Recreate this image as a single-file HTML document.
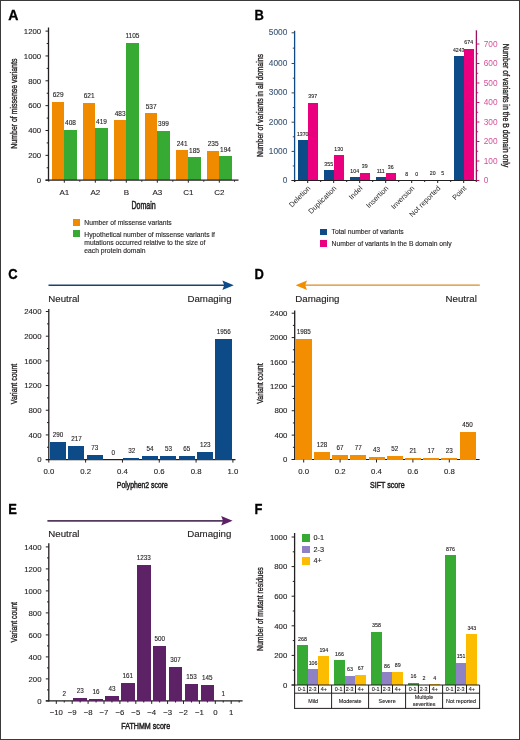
<!DOCTYPE html>
<html><head><meta charset="utf-8"><style>
html,body{margin:0;padding:0;background:#fff;}
svg{display:block;}
#w{will-change:transform;width:520px;height:740px;filter:blur(0.3px);}
text{font-family:"Liberation Sans", sans-serif;}
#b{position:absolute;left:0;top:0;width:520px;height:740px;box-sizing:border-box;border:1px solid #3a3a3a;border-bottom-width:1.4px;}
body{position:relative;}
</style></head><body>
<div id="w"><svg width="520" height="740" viewBox="0 0 520 740">
<rect x="0" y="0" width="520" height="740" fill="#fff"/>
<text transform="translate(8.20,20.00) scale(0.98,1)" font-size="14.4" fill="#000" font-weight="bold" stroke="#000" stroke-width="0.3">A</text>
<line x1="48.50" y1="27.50" x2="48.50" y2="180.70" stroke="#231f20" stroke-width="1.3"/>
<line x1="45.50" y1="180.20" x2="48.50" y2="180.20" stroke="#231f20" stroke-width="1"/>
<text x="41.20" y="182.90" font-size="7.8" text-anchor="end" fill="#231f20" font-weight="normal" stroke="#231f20" stroke-width="0.12">0</text>
<line x1="45.50" y1="155.35" x2="48.50" y2="155.35" stroke="#231f20" stroke-width="1"/>
<text x="41.20" y="158.05" font-size="7.8" text-anchor="end" fill="#231f20" font-weight="normal" stroke="#231f20" stroke-width="0.12">200</text>
<line x1="45.50" y1="130.50" x2="48.50" y2="130.50" stroke="#231f20" stroke-width="1"/>
<text x="41.20" y="133.20" font-size="7.8" text-anchor="end" fill="#231f20" font-weight="normal" stroke="#231f20" stroke-width="0.12">400</text>
<line x1="45.50" y1="105.65" x2="48.50" y2="105.65" stroke="#231f20" stroke-width="1"/>
<text x="41.20" y="108.35" font-size="7.8" text-anchor="end" fill="#231f20" font-weight="normal" stroke="#231f20" stroke-width="0.12">600</text>
<line x1="45.50" y1="80.80" x2="48.50" y2="80.80" stroke="#231f20" stroke-width="1"/>
<text x="41.20" y="83.50" font-size="7.8" text-anchor="end" fill="#231f20" font-weight="normal" stroke="#231f20" stroke-width="0.12">800</text>
<line x1="45.50" y1="55.95" x2="48.50" y2="55.95" stroke="#231f20" stroke-width="1"/>
<text x="41.20" y="58.65" font-size="7.8" text-anchor="end" fill="#231f20" font-weight="normal" stroke="#231f20" stroke-width="0.12">1000</text>
<line x1="45.50" y1="31.10" x2="48.50" y2="31.10" stroke="#231f20" stroke-width="1"/>
<text x="41.20" y="33.80" font-size="7.8" text-anchor="end" fill="#231f20" font-weight="normal" stroke="#231f20" stroke-width="0.12">1200</text>
<line x1="46.70" y1="167.77" x2="48.50" y2="167.77" stroke="#231f20" stroke-width="1"/>
<line x1="46.70" y1="142.92" x2="48.50" y2="142.92" stroke="#231f20" stroke-width="1"/>
<line x1="46.70" y1="118.07" x2="48.50" y2="118.07" stroke="#231f20" stroke-width="1"/>
<line x1="46.70" y1="93.22" x2="48.50" y2="93.22" stroke="#231f20" stroke-width="1"/>
<line x1="46.70" y1="68.37" x2="48.50" y2="68.37" stroke="#231f20" stroke-width="1"/>
<line x1="46.70" y1="43.52" x2="48.50" y2="43.52" stroke="#231f20" stroke-width="1"/>
<rect x="52.00" y="102.05" width="12.30" height="78.15" fill="#f08b00" shape-rendering="crispEdges"/>
<rect x="64.30" y="129.51" width="12.30" height="50.69" fill="#36aa33" shape-rendering="crispEdges"/>
<text x="58.15" y="97.45" font-size="6.5" text-anchor="middle" fill="#231f20" font-weight="normal" stroke="#231f20" stroke-width="0.12">629</text>
<text x="70.45" y="124.91" font-size="6.5" text-anchor="middle" fill="#231f20" font-weight="normal" stroke="#231f20" stroke-width="0.12">408</text>
<line x1="64.30" y1="180.20" x2="64.30" y2="182.70" stroke="#231f20" stroke-width="1"/>
<line x1="48.80" y1="180.20" x2="48.80" y2="181.70" stroke="#231f20" stroke-width="1"/>
<text x="64.30" y="194.50" font-size="8" text-anchor="middle" fill="#231f20" font-weight="normal" stroke="#231f20" stroke-width="0.12">A1</text>
<rect x="83.00" y="103.04" width="12.30" height="77.16" fill="#f08b00" shape-rendering="crispEdges"/>
<rect x="95.30" y="128.14" width="12.30" height="52.06" fill="#36aa33" shape-rendering="crispEdges"/>
<text x="89.15" y="98.44" font-size="6.5" text-anchor="middle" fill="#231f20" font-weight="normal" stroke="#231f20" stroke-width="0.12">621</text>
<text x="101.45" y="123.54" font-size="6.5" text-anchor="middle" fill="#231f20" font-weight="normal" stroke="#231f20" stroke-width="0.12">419</text>
<line x1="95.30" y1="180.20" x2="95.30" y2="182.70" stroke="#231f20" stroke-width="1"/>
<line x1="79.80" y1="180.20" x2="79.80" y2="181.70" stroke="#231f20" stroke-width="1"/>
<text x="95.30" y="194.50" font-size="8" text-anchor="middle" fill="#231f20" font-weight="normal" stroke="#231f20" stroke-width="0.12">A2</text>
<rect x="114.00" y="120.19" width="12.30" height="60.01" fill="#f08b00" shape-rendering="crispEdges"/>
<rect x="126.30" y="42.90" width="12.30" height="137.30" fill="#36aa33" shape-rendering="crispEdges"/>
<text x="120.15" y="115.59" font-size="6.5" text-anchor="middle" fill="#231f20" font-weight="normal" stroke="#231f20" stroke-width="0.12">483</text>
<text x="132.45" y="38.30" font-size="6.5" text-anchor="middle" fill="#231f20" font-weight="normal" stroke="#231f20" stroke-width="0.12">1105</text>
<line x1="126.30" y1="180.20" x2="126.30" y2="182.70" stroke="#231f20" stroke-width="1"/>
<line x1="110.80" y1="180.20" x2="110.80" y2="181.70" stroke="#231f20" stroke-width="1"/>
<text x="126.30" y="194.50" font-size="8" text-anchor="middle" fill="#231f20" font-weight="normal" stroke="#231f20" stroke-width="0.12">B</text>
<rect x="145.00" y="113.48" width="12.30" height="66.72" fill="#f08b00" shape-rendering="crispEdges"/>
<rect x="157.30" y="130.62" width="12.30" height="49.58" fill="#36aa33" shape-rendering="crispEdges"/>
<text x="151.15" y="108.88" font-size="6.5" text-anchor="middle" fill="#231f20" font-weight="normal" stroke="#231f20" stroke-width="0.12">537</text>
<text x="163.45" y="126.02" font-size="6.5" text-anchor="middle" fill="#231f20" font-weight="normal" stroke="#231f20" stroke-width="0.12">399</text>
<line x1="157.30" y1="180.20" x2="157.30" y2="182.70" stroke="#231f20" stroke-width="1"/>
<line x1="141.80" y1="180.20" x2="141.80" y2="181.70" stroke="#231f20" stroke-width="1"/>
<text x="157.30" y="194.50" font-size="8" text-anchor="middle" fill="#231f20" font-weight="normal" stroke="#231f20" stroke-width="0.12">A3</text>
<rect x="176.00" y="150.26" width="12.30" height="29.94" fill="#f08b00" shape-rendering="crispEdges"/>
<rect x="188.30" y="157.21" width="12.30" height="22.99" fill="#36aa33" shape-rendering="crispEdges"/>
<text x="182.15" y="145.66" font-size="6.5" text-anchor="middle" fill="#231f20" font-weight="normal" stroke="#231f20" stroke-width="0.12">241</text>
<text x="194.45" y="152.61" font-size="6.5" text-anchor="middle" fill="#231f20" font-weight="normal" stroke="#231f20" stroke-width="0.12">185</text>
<line x1="188.30" y1="180.20" x2="188.30" y2="182.70" stroke="#231f20" stroke-width="1"/>
<line x1="172.80" y1="180.20" x2="172.80" y2="181.70" stroke="#231f20" stroke-width="1"/>
<text x="188.30" y="194.50" font-size="8" text-anchor="middle" fill="#231f20" font-weight="normal" stroke="#231f20" stroke-width="0.12">C1</text>
<rect x="207.00" y="151.00" width="12.30" height="29.20" fill="#f08b00" shape-rendering="crispEdges"/>
<rect x="219.30" y="156.10" width="12.30" height="24.10" fill="#36aa33" shape-rendering="crispEdges"/>
<text x="213.15" y="146.40" font-size="6.5" text-anchor="middle" fill="#231f20" font-weight="normal" stroke="#231f20" stroke-width="0.12">235</text>
<text x="225.45" y="151.50" font-size="6.5" text-anchor="middle" fill="#231f20" font-weight="normal" stroke="#231f20" stroke-width="0.12">194</text>
<line x1="219.30" y1="180.20" x2="219.30" y2="182.70" stroke="#231f20" stroke-width="1"/>
<line x1="203.80" y1="180.20" x2="203.80" y2="181.70" stroke="#231f20" stroke-width="1"/>
<text x="219.30" y="194.50" font-size="8" text-anchor="middle" fill="#231f20" font-weight="normal" stroke="#231f20" stroke-width="0.12">C2</text>
<line x1="234.50" y1="180.20" x2="234.50" y2="181.70" stroke="#231f20" stroke-width="1"/>
<line x1="45.50" y1="180.20" x2="238.50" y2="180.20" stroke="#231f20" stroke-width="1.2"/>
<text transform="translate(143.60,208.70) scale(0.68,1)" font-size="10.4" text-anchor="middle" fill="#231f20" font-weight="normal" stroke="#231f20" stroke-width="0.5">Domain</text>
<text transform="translate(13.50,103.65) rotate(-90) scale(0.725,1)" font-size="9.6" text-anchor="middle" fill="#231f20" font-weight="normal" y="3.2" stroke="#231f20" stroke-width="0.35">Number of missense variants</text>
<rect x="73.00" y="219.00" width="7.00" height="7.00" fill="#f08b00" shape-rendering="crispEdges"/>
<rect x="73.00" y="230.30" width="7.00" height="7.00" fill="#36aa33" shape-rendering="crispEdges"/>
<text x="84.30" y="224.50" font-size="6.75" text-anchor="start" fill="#231f20" font-weight="normal" stroke="#231f20" stroke-width="0.12">Number of missense variants</text>
<text x="84.30" y="236.50" font-size="6.75" text-anchor="start" fill="#231f20" font-weight="normal" stroke="#231f20" stroke-width="0.12">Hypothetical number of missense variants if</text>
<text x="84.30" y="244.80" font-size="6.75" text-anchor="start" fill="#231f20" font-weight="normal" stroke="#231f20" stroke-width="0.12">mutations occurred relative to the size of</text>
<text x="84.30" y="253.10" font-size="6.75" text-anchor="start" fill="#231f20" font-weight="normal" stroke="#231f20" stroke-width="0.12">each protein domain</text>
<text transform="translate(254.60,20.00) scale(0.9,1)" font-size="14.4" fill="#000" font-weight="bold" stroke="#000" stroke-width="0.3">B</text>
<line x1="294.60" y1="30.80" x2="294.60" y2="182.00" stroke="#0c4b87" stroke-width="1.3"/>
<line x1="291.60" y1="180.50" x2="294.60" y2="180.50" stroke="#444" stroke-width="1"/>
<text x="287.30" y="183.00" font-size="8.3" text-anchor="end" fill="#3f5877" font-weight="normal" stroke="#3f5877" stroke-width="0.12">0</text>
<line x1="291.60" y1="151.40" x2="294.60" y2="151.40" stroke="#444" stroke-width="1"/>
<text x="287.30" y="153.90" font-size="8.3" text-anchor="end" fill="#3f5877" font-weight="normal" stroke="#3f5877" stroke-width="0.12">1000</text>
<line x1="291.60" y1="122.20" x2="294.60" y2="122.20" stroke="#444" stroke-width="1"/>
<text x="287.30" y="124.70" font-size="8.3" text-anchor="end" fill="#3f5877" font-weight="normal" stroke="#3f5877" stroke-width="0.12">2000</text>
<line x1="291.60" y1="92.90" x2="294.60" y2="92.90" stroke="#444" stroke-width="1"/>
<text x="287.30" y="95.40" font-size="8.3" text-anchor="end" fill="#3f5877" font-weight="normal" stroke="#3f5877" stroke-width="0.12">3000</text>
<line x1="291.60" y1="63.50" x2="294.60" y2="63.50" stroke="#444" stroke-width="1"/>
<text x="287.30" y="66.00" font-size="8.3" text-anchor="end" fill="#3f5877" font-weight="normal" stroke="#3f5877" stroke-width="0.12">4000</text>
<line x1="291.60" y1="32.80" x2="294.60" y2="32.80" stroke="#444" stroke-width="1"/>
<text x="287.30" y="35.30" font-size="8.3" text-anchor="end" fill="#3f5877" font-weight="normal" stroke="#3f5877" stroke-width="0.12">5000</text>
<line x1="292.80" y1="165.95" x2="294.60" y2="165.95" stroke="#444" stroke-width="1"/>
<line x1="292.80" y1="136.80" x2="294.60" y2="136.80" stroke="#444" stroke-width="1"/>
<line x1="292.80" y1="107.55" x2="294.60" y2="107.55" stroke="#444" stroke-width="1"/>
<line x1="292.80" y1="78.20" x2="294.60" y2="78.20" stroke="#444" stroke-width="1"/>
<line x1="292.80" y1="48.15" x2="294.60" y2="48.15" stroke="#444" stroke-width="1"/>
<line x1="476.40" y1="30.30" x2="476.40" y2="182.00" stroke="#a01060" stroke-width="1.3"/>
<line x1="476.40" y1="180.50" x2="479.40" y2="180.50" stroke="#c0106a" stroke-width="1"/>
<text x="483.70" y="183.00" font-size="8.3" text-anchor="start" fill="#d4509a" font-weight="normal" >0</text>
<line x1="476.40" y1="161.00" x2="479.40" y2="161.00" stroke="#c0106a" stroke-width="1"/>
<text x="483.70" y="163.50" font-size="8.3" text-anchor="start" fill="#d4509a" font-weight="normal" >100</text>
<line x1="476.40" y1="141.50" x2="479.40" y2="141.50" stroke="#c0106a" stroke-width="1"/>
<text x="483.70" y="144.00" font-size="8.3" text-anchor="start" fill="#d4509a" font-weight="normal" >200</text>
<line x1="476.40" y1="122.00" x2="479.40" y2="122.00" stroke="#c0106a" stroke-width="1"/>
<text x="483.70" y="124.50" font-size="8.3" text-anchor="start" fill="#d4509a" font-weight="normal" >300</text>
<line x1="476.40" y1="102.50" x2="479.40" y2="102.50" stroke="#c0106a" stroke-width="1"/>
<text x="483.70" y="105.00" font-size="8.3" text-anchor="start" fill="#d4509a" font-weight="normal" >400</text>
<line x1="476.40" y1="83.00" x2="479.40" y2="83.00" stroke="#c0106a" stroke-width="1"/>
<text x="483.70" y="85.50" font-size="8.3" text-anchor="start" fill="#d4509a" font-weight="normal" >500</text>
<line x1="476.40" y1="63.50" x2="479.40" y2="63.50" stroke="#c0106a" stroke-width="1"/>
<text x="483.70" y="66.00" font-size="8.3" text-anchor="start" fill="#d4509a" font-weight="normal" >600</text>
<line x1="476.40" y1="44.00" x2="479.40" y2="44.00" stroke="#c0106a" stroke-width="1"/>
<text x="483.70" y="46.50" font-size="8.3" text-anchor="start" fill="#d4509a" font-weight="normal" >700</text>
<line x1="476.40" y1="170.75" x2="478.20" y2="170.75" stroke="#c0106a" stroke-width="1"/>
<line x1="476.40" y1="151.25" x2="478.20" y2="151.25" stroke="#c0106a" stroke-width="1"/>
<line x1="476.40" y1="131.75" x2="478.20" y2="131.75" stroke="#c0106a" stroke-width="1"/>
<line x1="476.40" y1="112.25" x2="478.20" y2="112.25" stroke="#c0106a" stroke-width="1"/>
<line x1="476.40" y1="92.75" x2="478.20" y2="92.75" stroke="#c0106a" stroke-width="1"/>
<line x1="476.40" y1="73.25" x2="478.20" y2="73.25" stroke="#c0106a" stroke-width="1"/>
<line x1="476.40" y1="53.75" x2="478.20" y2="53.75" stroke="#c0106a" stroke-width="1"/>
<rect x="297.70" y="140.43" width="10.00" height="40.07" fill="#0c4b87" shape-rendering="crispEdges"/>
<rect x="307.70" y="103.08" width="10.00" height="77.42" fill="#ea007e" shape-rendering="crispEdges"/>
<text x="302.70" y="135.83" font-size="5.2" text-anchor="middle" fill="#231f20" font-weight="normal" stroke="#231f20" stroke-width="0.12">1370</text>
<text x="312.70" y="98.48" font-size="5.2" text-anchor="middle" fill="#231f20" font-weight="normal" stroke="#231f20" stroke-width="0.12">397</text>
<line x1="307.70" y1="180.50" x2="307.70" y2="183.00" stroke="#231f20" stroke-width="1"/>
<line x1="294.70" y1="180.50" x2="294.70" y2="182.00" stroke="#231f20" stroke-width="1"/>
<text transform="translate(310.90,188.70) rotate(-45)" font-size="7.3" text-anchor="end" fill="#231f20">Deletion</text>
<rect x="323.70" y="170.12" width="10.00" height="10.38" fill="#0c4b87" shape-rendering="crispEdges"/>
<rect x="333.70" y="155.15" width="10.00" height="25.35" fill="#ea007e" shape-rendering="crispEdges"/>
<text x="328.70" y="165.52" font-size="5.2" text-anchor="middle" fill="#231f20" font-weight="normal" stroke="#231f20" stroke-width="0.12">355</text>
<text x="338.70" y="150.55" font-size="5.2" text-anchor="middle" fill="#231f20" font-weight="normal" stroke="#231f20" stroke-width="0.12">130</text>
<line x1="333.70" y1="180.50" x2="333.70" y2="183.00" stroke="#231f20" stroke-width="1"/>
<line x1="320.70" y1="180.50" x2="320.70" y2="182.00" stroke="#231f20" stroke-width="1"/>
<text transform="translate(336.90,188.70) rotate(-45)" font-size="7.3" text-anchor="end" fill="#231f20">Duplication</text>
<rect x="349.70" y="177.46" width="10.00" height="3.04" fill="#0c4b87" shape-rendering="crispEdges"/>
<rect x="359.70" y="172.90" width="10.00" height="7.61" fill="#ea007e" shape-rendering="crispEdges"/>
<text x="354.70" y="172.86" font-size="5.2" text-anchor="middle" fill="#231f20" font-weight="normal" stroke="#231f20" stroke-width="0.12">104</text>
<text x="364.70" y="168.30" font-size="5.2" text-anchor="middle" fill="#231f20" font-weight="normal" stroke="#231f20" stroke-width="0.12">39</text>
<line x1="359.70" y1="180.50" x2="359.70" y2="183.00" stroke="#231f20" stroke-width="1"/>
<line x1="346.70" y1="180.50" x2="346.70" y2="182.00" stroke="#231f20" stroke-width="1"/>
<text transform="translate(362.90,188.70) rotate(-45)" font-size="7.3" text-anchor="end" fill="#231f20">Indel</text>
<rect x="375.70" y="177.25" width="10.00" height="3.25" fill="#0c4b87" shape-rendering="crispEdges"/>
<rect x="385.70" y="173.48" width="10.00" height="7.02" fill="#ea007e" shape-rendering="crispEdges"/>
<text x="380.70" y="172.65" font-size="5.2" text-anchor="middle" fill="#231f20" font-weight="normal" stroke="#231f20" stroke-width="0.12">111</text>
<text x="390.70" y="168.88" font-size="5.2" text-anchor="middle" fill="#231f20" font-weight="normal" stroke="#231f20" stroke-width="0.12">36</text>
<line x1="385.70" y1="180.50" x2="385.70" y2="183.00" stroke="#231f20" stroke-width="1"/>
<line x1="372.70" y1="180.50" x2="372.70" y2="182.00" stroke="#231f20" stroke-width="1"/>
<text transform="translate(388.90,188.70) rotate(-45)" font-size="7.3" text-anchor="end" fill="#231f20">Insertion</text>
<rect x="401.70" y="180.27" width="10.00" height="0.23" fill="#0c4b87" shape-rendering="crispEdges"/>
<rect x="411.70" y="180.50" width="10.00" height="0.00" fill="#ea007e" shape-rendering="crispEdges"/>
<text x="406.70" y="175.67" font-size="5.2" text-anchor="middle" fill="#231f20" font-weight="normal" stroke="#231f20" stroke-width="0.12">8</text>
<text x="416.70" y="175.90" font-size="5.2" text-anchor="middle" fill="#231f20" font-weight="normal" stroke="#231f20" stroke-width="0.12">0</text>
<line x1="411.70" y1="180.50" x2="411.70" y2="183.00" stroke="#231f20" stroke-width="1"/>
<line x1="398.70" y1="180.50" x2="398.70" y2="182.00" stroke="#231f20" stroke-width="1"/>
<text transform="translate(414.90,188.70) rotate(-45)" font-size="7.3" text-anchor="end" fill="#231f20">Inversion</text>
<rect x="427.70" y="179.91" width="10.00" height="0.59" fill="#0c4b87" shape-rendering="crispEdges"/>
<rect x="437.70" y="179.53" width="10.00" height="0.98" fill="#ea007e" shape-rendering="crispEdges"/>
<text x="432.70" y="175.31" font-size="5.2" text-anchor="middle" fill="#231f20" font-weight="normal" stroke="#231f20" stroke-width="0.12">20</text>
<text x="442.70" y="174.93" font-size="5.2" text-anchor="middle" fill="#231f20" font-weight="normal" stroke="#231f20" stroke-width="0.12">5</text>
<line x1="437.70" y1="180.50" x2="437.70" y2="183.00" stroke="#231f20" stroke-width="1"/>
<line x1="424.70" y1="180.50" x2="424.70" y2="182.00" stroke="#231f20" stroke-width="1"/>
<text transform="translate(440.90,188.70) rotate(-45)" font-size="7.3" text-anchor="end" fill="#231f20">Not reported</text>
<rect x="453.70" y="56.39" width="10.00" height="124.11" fill="#0c4b87" shape-rendering="crispEdges"/>
<rect x="463.70" y="49.07" width="10.00" height="131.43" fill="#ea007e" shape-rendering="crispEdges"/>
<text x="458.70" y="51.79" font-size="5.2" text-anchor="middle" fill="#231f20" font-weight="normal" stroke="#231f20" stroke-width="0.12">4243</text>
<text x="468.70" y="44.47" font-size="5.2" text-anchor="middle" fill="#231f20" font-weight="normal" stroke="#231f20" stroke-width="0.12">674</text>
<line x1="463.70" y1="180.50" x2="463.70" y2="183.00" stroke="#231f20" stroke-width="1"/>
<line x1="450.70" y1="180.50" x2="450.70" y2="182.00" stroke="#231f20" stroke-width="1"/>
<text transform="translate(466.90,188.70) rotate(-45)" font-size="7.3" text-anchor="end" fill="#231f20">Point</text>
<line x1="291.60" y1="180.50" x2="476.40" y2="180.50" stroke="#231f20" stroke-width="1.2"/>
<text transform="translate(259.70,105.50) rotate(-90) scale(0.725,1)" font-size="9.6" text-anchor="middle" fill="#231f20" font-weight="normal" y="3.2" stroke="#231f20" stroke-width="0.35">Number of variants in all domains</text>
<text transform="translate(506.70,105.50) rotate(90) scale(0.725,1)" font-size="9.6" text-anchor="middle" fill="#231f20" font-weight="normal" y="3.2" stroke="#231f20" stroke-width="0.35">Number of variants in the B domain only</text>
<rect x="320.20" y="228.60" width="6.80" height="6.80" fill="#0c4b87" shape-rendering="crispEdges"/>
<rect x="320.20" y="240.10" width="6.80" height="6.80" fill="#ea007e" shape-rendering="crispEdges"/>
<text x="331.60" y="234.40" font-size="6.75" text-anchor="start" fill="#231f20" font-weight="normal" stroke="#231f20" stroke-width="0.12">Total number of variants</text>
<text x="331.60" y="245.90" font-size="6.75" text-anchor="start" fill="#231f20" font-weight="normal" stroke="#231f20" stroke-width="0.12">Number of variants in the B domain only</text>
<text transform="translate(8.20,278.70) scale(0.9,1)" font-size="14.4" fill="#000" font-weight="bold" stroke="#000" stroke-width="0.3">C</text>
<line x1="48.50" y1="285.20" x2="225.80" y2="285.20" stroke="#1a4470" stroke-width="1.5"/>
<path d="M233.80,285.20 L222.40,280.40 L224.20,285.20 L222.40,290.00 Z" fill="#0c4b87"/>
<text x="48.30" y="301.60" font-size="9.7" text-anchor="start" fill="#231f20" font-weight="normal" stroke="#231f20" stroke-width="0.15">Neutral</text>
<text x="231.60" y="301.60" font-size="9.7" text-anchor="end" fill="#231f20" font-weight="normal" stroke="#231f20" stroke-width="0.15">Damaging</text>
<line x1="48.80" y1="308.90" x2="48.80" y2="460.10" stroke="#231f20" stroke-width="1.3"/>
<line x1="45.80" y1="459.60" x2="48.80" y2="459.60" stroke="#231f20" stroke-width="1"/>
<text x="41.50" y="462.30" font-size="7.8" text-anchor="end" fill="#231f20" font-weight="normal" stroke="#231f20" stroke-width="0.12">0</text>
<line x1="45.80" y1="434.92" x2="48.80" y2="434.92" stroke="#231f20" stroke-width="1"/>
<text x="41.50" y="437.62" font-size="7.8" text-anchor="end" fill="#231f20" font-weight="normal" stroke="#231f20" stroke-width="0.12">400</text>
<line x1="45.80" y1="410.24" x2="48.80" y2="410.24" stroke="#231f20" stroke-width="1"/>
<text x="41.50" y="412.94" font-size="7.8" text-anchor="end" fill="#231f20" font-weight="normal" stroke="#231f20" stroke-width="0.12">800</text>
<line x1="45.80" y1="385.56" x2="48.80" y2="385.56" stroke="#231f20" stroke-width="1"/>
<text x="41.50" y="388.26" font-size="7.8" text-anchor="end" fill="#231f20" font-weight="normal" stroke="#231f20" stroke-width="0.12">1200</text>
<line x1="45.80" y1="360.88" x2="48.80" y2="360.88" stroke="#231f20" stroke-width="1"/>
<text x="41.50" y="363.58" font-size="7.8" text-anchor="end" fill="#231f20" font-weight="normal" stroke="#231f20" stroke-width="0.12">1600</text>
<line x1="45.80" y1="336.20" x2="48.80" y2="336.20" stroke="#231f20" stroke-width="1"/>
<text x="41.50" y="338.90" font-size="7.8" text-anchor="end" fill="#231f20" font-weight="normal" stroke="#231f20" stroke-width="0.12">2000</text>
<line x1="45.80" y1="311.52" x2="48.80" y2="311.52" stroke="#231f20" stroke-width="1"/>
<text x="41.50" y="314.22" font-size="7.8" text-anchor="end" fill="#231f20" font-weight="normal" stroke="#231f20" stroke-width="0.12">2400</text>
<line x1="47.00" y1="447.26" x2="48.80" y2="447.26" stroke="#231f20" stroke-width="1"/>
<line x1="47.00" y1="422.58" x2="48.80" y2="422.58" stroke="#231f20" stroke-width="1"/>
<line x1="47.00" y1="397.90" x2="48.80" y2="397.90" stroke="#231f20" stroke-width="1"/>
<line x1="47.00" y1="373.22" x2="48.80" y2="373.22" stroke="#231f20" stroke-width="1"/>
<line x1="47.00" y1="348.54" x2="48.80" y2="348.54" stroke="#231f20" stroke-width="1"/>
<line x1="47.00" y1="323.86" x2="48.80" y2="323.86" stroke="#231f20" stroke-width="1"/>
<line x1="45.80" y1="459.60" x2="235.50" y2="459.60" stroke="#231f20" stroke-width="1.2"/>
<rect x="49.80" y="441.71" width="16.01" height="17.89" fill="#0c4b87" shape-rendering="crispEdges"/>
<text x="58.00" y="436.71" font-size="6.3" text-anchor="middle" fill="#231f20" font-weight="normal" stroke="#231f20" stroke-width="0.12">290</text>
<rect x="68.21" y="446.21" width="16.01" height="13.39" fill="#0c4b87" shape-rendering="crispEdges"/>
<text x="76.41" y="441.21" font-size="6.3" text-anchor="middle" fill="#231f20" font-weight="normal" stroke="#231f20" stroke-width="0.12">217</text>
<rect x="86.62" y="455.10" width="16.01" height="4.50" fill="#0c4b87" shape-rendering="crispEdges"/>
<text x="94.83" y="450.10" font-size="6.3" text-anchor="middle" fill="#231f20" font-weight="normal" stroke="#231f20" stroke-width="0.12">73</text>
<rect x="105.03" y="459.60" width="16.01" height="0.00" fill="#0c4b87" shape-rendering="crispEdges"/>
<text x="113.23" y="454.60" font-size="6.3" text-anchor="middle" fill="#231f20" font-weight="normal" stroke="#231f20" stroke-width="0.12">0</text>
<rect x="123.44" y="457.63" width="16.01" height="1.97" fill="#0c4b87" shape-rendering="crispEdges"/>
<text x="131.65" y="452.63" font-size="6.3" text-anchor="middle" fill="#231f20" font-weight="normal" stroke="#231f20" stroke-width="0.12">32</text>
<rect x="141.85" y="456.27" width="16.01" height="3.33" fill="#0c4b87" shape-rendering="crispEdges"/>
<text x="150.06" y="451.27" font-size="6.3" text-anchor="middle" fill="#231f20" font-weight="normal" stroke="#231f20" stroke-width="0.12">54</text>
<rect x="160.26" y="456.33" width="16.01" height="3.27" fill="#0c4b87" shape-rendering="crispEdges"/>
<text x="168.47" y="451.33" font-size="6.3" text-anchor="middle" fill="#231f20" font-weight="normal" stroke="#231f20" stroke-width="0.12">53</text>
<rect x="178.67" y="455.59" width="16.01" height="4.01" fill="#0c4b87" shape-rendering="crispEdges"/>
<text x="186.88" y="450.59" font-size="6.3" text-anchor="middle" fill="#231f20" font-weight="normal" stroke="#231f20" stroke-width="0.12">65</text>
<rect x="197.08" y="452.01" width="16.01" height="7.59" fill="#0c4b87" shape-rendering="crispEdges"/>
<text x="205.28" y="447.01" font-size="6.3" text-anchor="middle" fill="#231f20" font-weight="normal" stroke="#231f20" stroke-width="0.12">123</text>
<rect x="215.49" y="338.91" width="16.01" height="120.69" fill="#0c4b87" shape-rendering="crispEdges"/>
<text x="223.70" y="333.91" font-size="6.3" text-anchor="middle" fill="#231f20" font-weight="normal" stroke="#231f20" stroke-width="0.12">1956</text>
<line x1="48.80" y1="459.60" x2="48.80" y2="462.60" stroke="#231f20" stroke-width="1"/>
<text x="48.80" y="474.00" font-size="7.8" text-anchor="middle" fill="#231f20" font-weight="normal" stroke="#231f20" stroke-width="0.12">0.0</text>
<line x1="85.62" y1="459.60" x2="85.62" y2="462.60" stroke="#231f20" stroke-width="1"/>
<text x="85.62" y="474.00" font-size="7.8" text-anchor="middle" fill="#231f20" font-weight="normal" stroke="#231f20" stroke-width="0.12">0.2</text>
<line x1="122.44" y1="459.60" x2="122.44" y2="462.60" stroke="#231f20" stroke-width="1"/>
<text x="122.44" y="474.00" font-size="7.8" text-anchor="middle" fill="#231f20" font-weight="normal" stroke="#231f20" stroke-width="0.12">0.4</text>
<line x1="159.26" y1="459.60" x2="159.26" y2="462.60" stroke="#231f20" stroke-width="1"/>
<text x="159.26" y="474.00" font-size="7.8" text-anchor="middle" fill="#231f20" font-weight="normal" stroke="#231f20" stroke-width="0.12">0.6</text>
<line x1="196.08" y1="459.60" x2="196.08" y2="462.60" stroke="#231f20" stroke-width="1"/>
<text x="196.08" y="474.00" font-size="7.8" text-anchor="middle" fill="#231f20" font-weight="normal" stroke="#231f20" stroke-width="0.12">0.8</text>
<line x1="232.90" y1="459.60" x2="232.90" y2="462.60" stroke="#231f20" stroke-width="1"/>
<text x="232.90" y="474.00" font-size="7.8" text-anchor="middle" fill="#231f20" font-weight="normal" stroke="#231f20" stroke-width="0.12">1.0</text>
<text transform="translate(142.30,487.80) scale(0.76,1)" font-size="9" text-anchor="middle" fill="#231f20" font-weight="normal" stroke="#231f20" stroke-width="0.5">Polyphen2 score</text>
<text transform="translate(13.50,384.00) rotate(-90) scale(0.725,1)" font-size="9.6" text-anchor="middle" fill="#231f20" font-weight="normal" y="3.2" stroke="#231f20" stroke-width="0.35">Variant count</text>
<text transform="translate(254.60,278.70) scale(0.9,1)" font-size="14.4" fill="#000" font-weight="bold" stroke="#000" stroke-width="0.3">D</text>
<line x1="303.60" y1="285.20" x2="479.80" y2="285.20" stroke="#d98c1e" stroke-width="1.3"/>
<path d="M295.60,285.20 L307.00,280.40 L305.20,285.20 L307.00,290.00 Z" fill="#f28e00"/>
<text x="295.30" y="301.60" font-size="9.7" text-anchor="start" fill="#231f20" font-weight="normal" stroke="#231f20" stroke-width="0.15">Damaging</text>
<text x="476.80" y="301.60" font-size="9.7" text-anchor="end" fill="#231f20" font-weight="normal" stroke="#231f20" stroke-width="0.15">Neutral</text>
<line x1="294.70" y1="310.40" x2="294.70" y2="460.00" stroke="#231f20" stroke-width="1.3"/>
<line x1="291.70" y1="459.50" x2="294.70" y2="459.50" stroke="#231f20" stroke-width="1"/>
<text x="287.40" y="462.20" font-size="7.8" text-anchor="end" fill="#231f20" font-weight="normal" stroke="#231f20" stroke-width="0.12">0</text>
<line x1="291.70" y1="435.12" x2="294.70" y2="435.12" stroke="#231f20" stroke-width="1"/>
<text x="287.40" y="437.82" font-size="7.8" text-anchor="end" fill="#231f20" font-weight="normal" stroke="#231f20" stroke-width="0.12">400</text>
<line x1="291.70" y1="410.73" x2="294.70" y2="410.73" stroke="#231f20" stroke-width="1"/>
<text x="287.40" y="413.43" font-size="7.8" text-anchor="end" fill="#231f20" font-weight="normal" stroke="#231f20" stroke-width="0.12">800</text>
<line x1="291.70" y1="386.35" x2="294.70" y2="386.35" stroke="#231f20" stroke-width="1"/>
<text x="287.40" y="389.05" font-size="7.8" text-anchor="end" fill="#231f20" font-weight="normal" stroke="#231f20" stroke-width="0.12">1200</text>
<line x1="291.70" y1="361.97" x2="294.70" y2="361.97" stroke="#231f20" stroke-width="1"/>
<text x="287.40" y="364.67" font-size="7.8" text-anchor="end" fill="#231f20" font-weight="normal" stroke="#231f20" stroke-width="0.12">1600</text>
<line x1="291.70" y1="337.58" x2="294.70" y2="337.58" stroke="#231f20" stroke-width="1"/>
<text x="287.40" y="340.28" font-size="7.8" text-anchor="end" fill="#231f20" font-weight="normal" stroke="#231f20" stroke-width="0.12">2000</text>
<line x1="291.70" y1="313.20" x2="294.70" y2="313.20" stroke="#231f20" stroke-width="1"/>
<text x="287.40" y="315.90" font-size="7.8" text-anchor="end" fill="#231f20" font-weight="normal" stroke="#231f20" stroke-width="0.12">2400</text>
<line x1="292.90" y1="447.31" x2="294.70" y2="447.31" stroke="#231f20" stroke-width="1"/>
<line x1="292.90" y1="422.93" x2="294.70" y2="422.93" stroke="#231f20" stroke-width="1"/>
<line x1="292.90" y1="398.54" x2="294.70" y2="398.54" stroke="#231f20" stroke-width="1"/>
<line x1="292.90" y1="374.16" x2="294.70" y2="374.16" stroke="#231f20" stroke-width="1"/>
<line x1="292.90" y1="349.77" x2="294.70" y2="349.77" stroke="#231f20" stroke-width="1"/>
<line x1="292.90" y1="325.39" x2="294.70" y2="325.39" stroke="#231f20" stroke-width="1"/>
<line x1="291.70" y1="459.50" x2="479.60" y2="459.50" stroke="#231f20" stroke-width="1.2"/>
<rect x="295.20" y="338.50" width="16.50" height="121.00" fill="#f28e00" shape-rendering="crispEdges"/>
<text x="303.70" y="333.50" font-size="6.3" text-anchor="middle" fill="#231f20" font-weight="normal" stroke="#231f20" stroke-width="0.12">1985</text>
<rect x="313.90" y="451.70" width="16.00" height="7.80" fill="#f28e00" shape-rendering="crispEdges"/>
<text x="321.90" y="446.70" font-size="6.3" text-anchor="middle" fill="#231f20" font-weight="normal" stroke="#231f20" stroke-width="0.12">128</text>
<rect x="332.10" y="455.42" width="16.00" height="4.08" fill="#f28e00" shape-rendering="crispEdges"/>
<text x="340.10" y="450.42" font-size="6.3" text-anchor="middle" fill="#231f20" font-weight="normal" stroke="#231f20" stroke-width="0.12">67</text>
<rect x="350.30" y="454.81" width="16.00" height="4.69" fill="#f28e00" shape-rendering="crispEdges"/>
<text x="358.30" y="449.81" font-size="6.3" text-anchor="middle" fill="#231f20" font-weight="normal" stroke="#231f20" stroke-width="0.12">77</text>
<rect x="368.50" y="456.88" width="16.00" height="2.62" fill="#f28e00" shape-rendering="crispEdges"/>
<text x="376.50" y="451.88" font-size="6.3" text-anchor="middle" fill="#231f20" font-weight="normal" stroke="#231f20" stroke-width="0.12">43</text>
<rect x="386.70" y="456.33" width="16.00" height="3.17" fill="#f28e00" shape-rendering="crispEdges"/>
<text x="394.70" y="451.33" font-size="6.3" text-anchor="middle" fill="#231f20" font-weight="normal" stroke="#231f20" stroke-width="0.12">52</text>
<rect x="404.90" y="458.22" width="16.00" height="1.28" fill="#f28e00" shape-rendering="crispEdges"/>
<text x="412.90" y="453.22" font-size="6.3" text-anchor="middle" fill="#231f20" font-weight="normal" stroke="#231f20" stroke-width="0.12">21</text>
<rect x="423.10" y="458.46" width="16.00" height="1.04" fill="#f28e00" shape-rendering="crispEdges"/>
<text x="431.10" y="453.46" font-size="6.3" text-anchor="middle" fill="#231f20" font-weight="normal" stroke="#231f20" stroke-width="0.12">17</text>
<rect x="441.30" y="458.10" width="16.00" height="1.40" fill="#f28e00" shape-rendering="crispEdges"/>
<text x="449.30" y="453.10" font-size="6.3" text-anchor="middle" fill="#231f20" font-weight="normal" stroke="#231f20" stroke-width="0.12">23</text>
<rect x="459.50" y="432.07" width="16.00" height="27.43" fill="#f28e00" shape-rendering="crispEdges"/>
<text x="467.50" y="427.07" font-size="6.3" text-anchor="middle" fill="#231f20" font-weight="normal" stroke="#231f20" stroke-width="0.12">450</text>
<line x1="303.70" y1="459.50" x2="303.70" y2="462.50" stroke="#231f20" stroke-width="1"/>
<text x="303.70" y="474.00" font-size="7.8" text-anchor="middle" fill="#231f20" font-weight="normal" stroke="#231f20" stroke-width="0.12">0.0</text>
<line x1="340.10" y1="459.50" x2="340.10" y2="462.50" stroke="#231f20" stroke-width="1"/>
<text x="340.10" y="474.00" font-size="7.8" text-anchor="middle" fill="#231f20" font-weight="normal" stroke="#231f20" stroke-width="0.12">0.2</text>
<line x1="376.50" y1="459.50" x2="376.50" y2="462.50" stroke="#231f20" stroke-width="1"/>
<text x="376.50" y="474.00" font-size="7.8" text-anchor="middle" fill="#231f20" font-weight="normal" stroke="#231f20" stroke-width="0.12">0.4</text>
<line x1="412.90" y1="459.50" x2="412.90" y2="462.50" stroke="#231f20" stroke-width="1"/>
<text x="412.90" y="474.00" font-size="7.8" text-anchor="middle" fill="#231f20" font-weight="normal" stroke="#231f20" stroke-width="0.12">0.6</text>
<line x1="449.30" y1="459.50" x2="449.30" y2="462.50" stroke="#231f20" stroke-width="1"/>
<text x="449.30" y="474.00" font-size="7.8" text-anchor="middle" fill="#231f20" font-weight="normal" stroke="#231f20" stroke-width="0.12">0.8</text>
<text transform="translate(387.30,488.20) scale(0.75,1)" font-size="9.5" text-anchor="middle" fill="#231f20" font-weight="normal" stroke="#231f20" stroke-width="0.5">SIFT score</text>
<text transform="translate(259.70,383.60) rotate(-90) scale(0.725,1)" font-size="9.6" text-anchor="middle" fill="#231f20" font-weight="normal" y="3.2" stroke="#231f20" stroke-width="0.35">Variant count</text>
<text transform="translate(8.20,514.40) scale(0.9,1)" font-size="14.4" fill="#000" font-weight="bold" stroke="#000" stroke-width="0.3">E</text>
<line x1="47.40" y1="520.80" x2="224.60" y2="520.80" stroke="#553a60" stroke-width="1.8"/>
<path d="M232.60,520.80 L221.20,516.00 L223.00,520.80 L221.20,525.60 Z" fill="#5d2166"/>
<text x="48.30" y="536.80" font-size="9.7" text-anchor="start" fill="#231f20" font-weight="normal" stroke="#231f20" stroke-width="0.15">Neutral</text>
<text x="231.40" y="536.80" font-size="9.7" text-anchor="end" fill="#231f20" font-weight="normal" stroke="#231f20" stroke-width="0.15">Damaging</text>
<line x1="48.80" y1="543.20" x2="48.80" y2="701.40" stroke="#231f20" stroke-width="1.3"/>
<line x1="45.80" y1="700.90" x2="48.80" y2="700.90" stroke="#231f20" stroke-width="1"/>
<text x="41.50" y="703.60" font-size="7.8" text-anchor="end" fill="#231f20" font-weight="normal" stroke="#231f20" stroke-width="0.12">0</text>
<line x1="45.80" y1="678.90" x2="48.80" y2="678.90" stroke="#231f20" stroke-width="1"/>
<text x="41.50" y="681.60" font-size="7.8" text-anchor="end" fill="#231f20" font-weight="normal" stroke="#231f20" stroke-width="0.12">200</text>
<line x1="45.80" y1="656.90" x2="48.80" y2="656.90" stroke="#231f20" stroke-width="1"/>
<text x="41.50" y="659.60" font-size="7.8" text-anchor="end" fill="#231f20" font-weight="normal" stroke="#231f20" stroke-width="0.12">400</text>
<line x1="45.80" y1="634.90" x2="48.80" y2="634.90" stroke="#231f20" stroke-width="1"/>
<text x="41.50" y="637.60" font-size="7.8" text-anchor="end" fill="#231f20" font-weight="normal" stroke="#231f20" stroke-width="0.12">600</text>
<line x1="45.80" y1="612.90" x2="48.80" y2="612.90" stroke="#231f20" stroke-width="1"/>
<text x="41.50" y="615.60" font-size="7.8" text-anchor="end" fill="#231f20" font-weight="normal" stroke="#231f20" stroke-width="0.12">800</text>
<line x1="45.80" y1="590.90" x2="48.80" y2="590.90" stroke="#231f20" stroke-width="1"/>
<text x="41.50" y="593.60" font-size="7.8" text-anchor="end" fill="#231f20" font-weight="normal" stroke="#231f20" stroke-width="0.12">1000</text>
<line x1="45.80" y1="568.90" x2="48.80" y2="568.90" stroke="#231f20" stroke-width="1"/>
<text x="41.50" y="571.60" font-size="7.8" text-anchor="end" fill="#231f20" font-weight="normal" stroke="#231f20" stroke-width="0.12">1200</text>
<line x1="45.80" y1="546.90" x2="48.80" y2="546.90" stroke="#231f20" stroke-width="1"/>
<text x="41.50" y="549.60" font-size="7.8" text-anchor="end" fill="#231f20" font-weight="normal" stroke="#231f20" stroke-width="0.12">1400</text>
<line x1="47.00" y1="689.90" x2="48.80" y2="689.90" stroke="#231f20" stroke-width="1"/>
<line x1="47.00" y1="667.90" x2="48.80" y2="667.90" stroke="#231f20" stroke-width="1"/>
<line x1="47.00" y1="645.90" x2="48.80" y2="645.90" stroke="#231f20" stroke-width="1"/>
<line x1="47.00" y1="623.90" x2="48.80" y2="623.90" stroke="#231f20" stroke-width="1"/>
<line x1="47.00" y1="601.90" x2="48.80" y2="601.90" stroke="#231f20" stroke-width="1"/>
<line x1="47.00" y1="579.90" x2="48.80" y2="579.90" stroke="#231f20" stroke-width="1"/>
<line x1="47.00" y1="557.90" x2="48.80" y2="557.90" stroke="#231f20" stroke-width="1"/>
<line x1="45.80" y1="700.90" x2="242.60" y2="700.90" stroke="#231f20" stroke-width="1.2"/>
<text x="64.25" y="695.68" font-size="6.3" text-anchor="middle" fill="#231f20" font-weight="normal" stroke="#231f20" stroke-width="0.12">2</text>
<rect x="73.40" y="698.37" width="13.50" height="2.53" fill="#5d2166" shape-rendering="crispEdges"/>
<text x="80.15" y="693.37" font-size="6.3" text-anchor="middle" fill="#231f20" font-weight="normal" stroke="#231f20" stroke-width="0.12">23</text>
<rect x="89.30" y="699.14" width="13.50" height="1.76" fill="#5d2166" shape-rendering="crispEdges"/>
<text x="96.05" y="694.14" font-size="6.3" text-anchor="middle" fill="#231f20" font-weight="normal" stroke="#231f20" stroke-width="0.12">16</text>
<rect x="105.20" y="696.17" width="13.50" height="4.73" fill="#5d2166" shape-rendering="crispEdges"/>
<text x="111.95" y="691.17" font-size="6.3" text-anchor="middle" fill="#231f20" font-weight="normal" stroke="#231f20" stroke-width="0.12">43</text>
<rect x="121.10" y="683.19" width="13.50" height="17.71" fill="#5d2166" shape-rendering="crispEdges"/>
<text x="127.85" y="678.19" font-size="6.3" text-anchor="middle" fill="#231f20" font-weight="normal" stroke="#231f20" stroke-width="0.12">161</text>
<rect x="137.00" y="565.27" width="13.50" height="135.63" fill="#5d2166" shape-rendering="crispEdges"/>
<text x="143.75" y="560.27" font-size="6.3" text-anchor="middle" fill="#231f20" font-weight="normal" stroke="#231f20" stroke-width="0.12">1233</text>
<rect x="152.90" y="645.90" width="13.50" height="55.00" fill="#5d2166" shape-rendering="crispEdges"/>
<text x="159.65" y="640.90" font-size="6.3" text-anchor="middle" fill="#231f20" font-weight="normal" stroke="#231f20" stroke-width="0.12">500</text>
<rect x="168.80" y="667.13" width="13.50" height="33.77" fill="#5d2166" shape-rendering="crispEdges"/>
<text x="175.55" y="662.13" font-size="6.3" text-anchor="middle" fill="#231f20" font-weight="normal" stroke="#231f20" stroke-width="0.12">307</text>
<rect x="184.70" y="684.07" width="13.50" height="16.83" fill="#5d2166" shape-rendering="crispEdges"/>
<text x="191.45" y="679.07" font-size="6.3" text-anchor="middle" fill="#231f20" font-weight="normal" stroke="#231f20" stroke-width="0.12">153</text>
<rect x="200.60" y="684.95" width="13.50" height="15.95" fill="#5d2166" shape-rendering="crispEdges"/>
<text x="207.35" y="679.95" font-size="6.3" text-anchor="middle" fill="#231f20" font-weight="normal" stroke="#231f20" stroke-width="0.12">145</text>
<text x="223.25" y="695.79" font-size="6.3" text-anchor="middle" fill="#231f20" font-weight="normal" stroke="#231f20" stroke-width="0.12">1</text>
<line x1="56.30" y1="700.90" x2="56.30" y2="703.90" stroke="#231f20" stroke-width="1"/>
<text x="56.30" y="714.60" font-size="7.8" text-anchor="middle" fill="#231f20" font-weight="normal" stroke="#231f20" stroke-width="0.12">−10</text>
<line x1="72.20" y1="700.90" x2="72.20" y2="703.90" stroke="#231f20" stroke-width="1"/>
<text x="72.20" y="714.60" font-size="7.8" text-anchor="middle" fill="#231f20" font-weight="normal" stroke="#231f20" stroke-width="0.12">−9</text>
<line x1="88.10" y1="700.90" x2="88.10" y2="703.90" stroke="#231f20" stroke-width="1"/>
<text x="88.10" y="714.60" font-size="7.8" text-anchor="middle" fill="#231f20" font-weight="normal" stroke="#231f20" stroke-width="0.12">−8</text>
<line x1="104.00" y1="700.90" x2="104.00" y2="703.90" stroke="#231f20" stroke-width="1"/>
<text x="104.00" y="714.60" font-size="7.8" text-anchor="middle" fill="#231f20" font-weight="normal" stroke="#231f20" stroke-width="0.12">−7</text>
<line x1="119.90" y1="700.90" x2="119.90" y2="703.90" stroke="#231f20" stroke-width="1"/>
<text x="119.90" y="714.60" font-size="7.8" text-anchor="middle" fill="#231f20" font-weight="normal" stroke="#231f20" stroke-width="0.12">−6</text>
<line x1="135.80" y1="700.90" x2="135.80" y2="703.90" stroke="#231f20" stroke-width="1"/>
<text x="135.80" y="714.60" font-size="7.8" text-anchor="middle" fill="#231f20" font-weight="normal" stroke="#231f20" stroke-width="0.12">−5</text>
<line x1="151.70" y1="700.90" x2="151.70" y2="703.90" stroke="#231f20" stroke-width="1"/>
<text x="151.70" y="714.60" font-size="7.8" text-anchor="middle" fill="#231f20" font-weight="normal" stroke="#231f20" stroke-width="0.12">−4</text>
<line x1="167.60" y1="700.90" x2="167.60" y2="703.90" stroke="#231f20" stroke-width="1"/>
<text x="167.60" y="714.60" font-size="7.8" text-anchor="middle" fill="#231f20" font-weight="normal" stroke="#231f20" stroke-width="0.12">−3</text>
<line x1="183.50" y1="700.90" x2="183.50" y2="703.90" stroke="#231f20" stroke-width="1"/>
<text x="183.50" y="714.60" font-size="7.8" text-anchor="middle" fill="#231f20" font-weight="normal" stroke="#231f20" stroke-width="0.12">−2</text>
<line x1="199.40" y1="700.90" x2="199.40" y2="703.90" stroke="#231f20" stroke-width="1"/>
<text x="199.40" y="714.60" font-size="7.8" text-anchor="middle" fill="#231f20" font-weight="normal" stroke="#231f20" stroke-width="0.12">−1</text>
<line x1="215.30" y1="700.90" x2="215.30" y2="703.90" stroke="#231f20" stroke-width="1"/>
<text x="215.30" y="714.60" font-size="7.8" text-anchor="middle" fill="#231f20" font-weight="normal" stroke="#231f20" stroke-width="0.12">0</text>
<line x1="231.20" y1="700.90" x2="231.20" y2="703.90" stroke="#231f20" stroke-width="1"/>
<text x="231.20" y="714.60" font-size="7.8" text-anchor="middle" fill="#231f20" font-weight="normal" stroke="#231f20" stroke-width="0.12">1</text>
<line x1="64.25" y1="700.90" x2="64.25" y2="702.50" stroke="#231f20" stroke-width="1"/>
<line x1="80.15" y1="700.90" x2="80.15" y2="702.50" stroke="#231f20" stroke-width="1"/>
<line x1="96.05" y1="700.90" x2="96.05" y2="702.50" stroke="#231f20" stroke-width="1"/>
<line x1="111.95" y1="700.90" x2="111.95" y2="702.50" stroke="#231f20" stroke-width="1"/>
<line x1="127.85" y1="700.90" x2="127.85" y2="702.50" stroke="#231f20" stroke-width="1"/>
<line x1="143.75" y1="700.90" x2="143.75" y2="702.50" stroke="#231f20" stroke-width="1"/>
<line x1="159.65" y1="700.90" x2="159.65" y2="702.50" stroke="#231f20" stroke-width="1"/>
<line x1="175.55" y1="700.90" x2="175.55" y2="702.50" stroke="#231f20" stroke-width="1"/>
<line x1="191.45" y1="700.90" x2="191.45" y2="702.50" stroke="#231f20" stroke-width="1"/>
<line x1="207.35" y1="700.90" x2="207.35" y2="702.50" stroke="#231f20" stroke-width="1"/>
<line x1="223.25" y1="700.90" x2="223.25" y2="702.50" stroke="#231f20" stroke-width="1"/>
<line x1="239.15" y1="700.90" x2="239.15" y2="702.50" stroke="#231f20" stroke-width="1"/>
<text transform="translate(145.70,729.40) scale(0.76,1)" font-size="9.4" text-anchor="middle" fill="#231f20" font-weight="normal" stroke="#231f20" stroke-width="0.5">FATHMM score</text>
<text transform="translate(13.50,622.20) rotate(-90) scale(0.725,1)" font-size="9.6" text-anchor="middle" fill="#231f20" font-weight="normal" y="3.2" stroke="#231f20" stroke-width="0.35">Variant count</text>
<text transform="translate(254.60,514.20) scale(0.9,1)" font-size="14.4" fill="#000" font-weight="bold" stroke="#000" stroke-width="0.3">F</text>
<line x1="294.60" y1="533.00" x2="294.60" y2="685.50" stroke="#231f20" stroke-width="1.3"/>
<line x1="291.60" y1="685.00" x2="294.60" y2="685.00" stroke="#231f20" stroke-width="1"/>
<text x="287.30" y="687.70" font-size="7.8" text-anchor="end" fill="#231f20" font-weight="normal" stroke="#231f20" stroke-width="0.12">0</text>
<line x1="291.60" y1="655.40" x2="294.60" y2="655.40" stroke="#231f20" stroke-width="1"/>
<text x="287.30" y="658.10" font-size="7.8" text-anchor="end" fill="#231f20" font-weight="normal" stroke="#231f20" stroke-width="0.12">200</text>
<line x1="291.60" y1="625.80" x2="294.60" y2="625.80" stroke="#231f20" stroke-width="1"/>
<text x="287.30" y="628.50" font-size="7.8" text-anchor="end" fill="#231f20" font-weight="normal" stroke="#231f20" stroke-width="0.12">400</text>
<line x1="291.60" y1="596.20" x2="294.60" y2="596.20" stroke="#231f20" stroke-width="1"/>
<text x="287.30" y="598.90" font-size="7.8" text-anchor="end" fill="#231f20" font-weight="normal" stroke="#231f20" stroke-width="0.12">600</text>
<line x1="291.60" y1="566.60" x2="294.60" y2="566.60" stroke="#231f20" stroke-width="1"/>
<text x="287.30" y="569.30" font-size="7.8" text-anchor="end" fill="#231f20" font-weight="normal" stroke="#231f20" stroke-width="0.12">800</text>
<line x1="291.60" y1="537.00" x2="294.60" y2="537.00" stroke="#231f20" stroke-width="1"/>
<text x="287.30" y="539.70" font-size="7.8" text-anchor="end" fill="#231f20" font-weight="normal" stroke="#231f20" stroke-width="0.12">1000</text>
<line x1="292.80" y1="670.20" x2="294.60" y2="670.20" stroke="#231f20" stroke-width="1"/>
<line x1="292.80" y1="640.60" x2="294.60" y2="640.60" stroke="#231f20" stroke-width="1"/>
<line x1="292.80" y1="611.00" x2="294.60" y2="611.00" stroke="#231f20" stroke-width="1"/>
<line x1="292.80" y1="581.40" x2="294.60" y2="581.40" stroke="#231f20" stroke-width="1"/>
<line x1="292.80" y1="551.80" x2="294.60" y2="551.80" stroke="#231f20" stroke-width="1"/>
<rect x="297.20" y="645.34" width="10.50" height="39.66" fill="#36aa33" shape-rendering="crispEdges"/>
<text x="302.45" y="640.74" font-size="5.3" text-anchor="middle" fill="#231f20" font-weight="normal" stroke="#231f20" stroke-width="0.12">268</text>
<rect x="307.70" y="669.31" width="10.70" height="15.69" fill="#8f82c4" shape-rendering="crispEdges"/>
<text x="313.05" y="664.71" font-size="5.3" text-anchor="middle" fill="#231f20" font-weight="normal" stroke="#231f20" stroke-width="0.12">106</text>
<rect x="318.40" y="656.29" width="10.80" height="28.71" fill="#fcbc00" shape-rendering="crispEdges"/>
<text x="323.80" y="651.69" font-size="5.3" text-anchor="middle" fill="#231f20" font-weight="normal" stroke="#231f20" stroke-width="0.12">194</text>
<line x1="307.40" y1="685.00" x2="307.40" y2="693.20" stroke="#231f20" stroke-width="1"/>
<line x1="318.50" y1="685.00" x2="318.50" y2="693.20" stroke="#231f20" stroke-width="1"/>
<text x="301.60" y="691.20" font-size="5.4" text-anchor="middle" fill="#231f20" font-weight="normal" stroke="#231f20" stroke-width="0.12">0-1</text>
<text x="312.60" y="691.20" font-size="5.4" text-anchor="middle" fill="#231f20" font-weight="normal" stroke="#231f20" stroke-width="0.12">2-3</text>
<text x="323.80" y="691.20" font-size="5.4" text-anchor="middle" fill="#231f20" font-weight="normal" stroke="#231f20" stroke-width="0.12">4+</text>
<text x="313.10" y="702.60" font-size="5.4" text-anchor="middle" fill="#231f20" font-weight="normal" stroke="#231f20" stroke-width="0.12">Mild</text>
<rect x="334.20" y="660.43" width="10.50" height="24.57" fill="#36aa33" shape-rendering="crispEdges"/>
<text x="339.45" y="655.83" font-size="5.3" text-anchor="middle" fill="#231f20" font-weight="normal" stroke="#231f20" stroke-width="0.12">166</text>
<rect x="344.70" y="675.68" width="10.70" height="9.32" fill="#8f82c4" shape-rendering="crispEdges"/>
<text x="350.05" y="671.08" font-size="5.3" text-anchor="middle" fill="#231f20" font-weight="normal" stroke="#231f20" stroke-width="0.12">63</text>
<rect x="355.40" y="675.08" width="10.80" height="9.92" fill="#fcbc00" shape-rendering="crispEdges"/>
<text x="360.80" y="670.48" font-size="5.3" text-anchor="middle" fill="#231f20" font-weight="normal" stroke="#231f20" stroke-width="0.12">67</text>
<line x1="344.40" y1="685.00" x2="344.40" y2="693.20" stroke="#231f20" stroke-width="1"/>
<line x1="355.50" y1="685.00" x2="355.50" y2="693.20" stroke="#231f20" stroke-width="1"/>
<text x="338.60" y="691.20" font-size="5.4" text-anchor="middle" fill="#231f20" font-weight="normal" stroke="#231f20" stroke-width="0.12">0-1</text>
<text x="349.60" y="691.20" font-size="5.4" text-anchor="middle" fill="#231f20" font-weight="normal" stroke="#231f20" stroke-width="0.12">2-3</text>
<text x="360.80" y="691.20" font-size="5.4" text-anchor="middle" fill="#231f20" font-weight="normal" stroke="#231f20" stroke-width="0.12">4+</text>
<text x="350.10" y="702.60" font-size="5.4" text-anchor="middle" fill="#231f20" font-weight="normal" stroke="#231f20" stroke-width="0.12">Moderate</text>
<rect x="371.20" y="632.02" width="10.50" height="52.98" fill="#36aa33" shape-rendering="crispEdges"/>
<text x="376.45" y="627.42" font-size="5.3" text-anchor="middle" fill="#231f20" font-weight="normal" stroke="#231f20" stroke-width="0.12">358</text>
<rect x="381.70" y="672.27" width="10.70" height="12.73" fill="#8f82c4" shape-rendering="crispEdges"/>
<text x="387.05" y="667.67" font-size="5.3" text-anchor="middle" fill="#231f20" font-weight="normal" stroke="#231f20" stroke-width="0.12">86</text>
<rect x="392.40" y="671.83" width="10.80" height="13.17" fill="#fcbc00" shape-rendering="crispEdges"/>
<text x="397.80" y="667.23" font-size="5.3" text-anchor="middle" fill="#231f20" font-weight="normal" stroke="#231f20" stroke-width="0.12">89</text>
<line x1="381.40" y1="685.00" x2="381.40" y2="693.20" stroke="#231f20" stroke-width="1"/>
<line x1="392.50" y1="685.00" x2="392.50" y2="693.20" stroke="#231f20" stroke-width="1"/>
<text x="375.60" y="691.20" font-size="5.4" text-anchor="middle" fill="#231f20" font-weight="normal" stroke="#231f20" stroke-width="0.12">0-1</text>
<text x="386.60" y="691.20" font-size="5.4" text-anchor="middle" fill="#231f20" font-weight="normal" stroke="#231f20" stroke-width="0.12">2-3</text>
<text x="397.80" y="691.20" font-size="5.4" text-anchor="middle" fill="#231f20" font-weight="normal" stroke="#231f20" stroke-width="0.12">4+</text>
<text x="387.10" y="702.60" font-size="5.4" text-anchor="middle" fill="#231f20" font-weight="normal" stroke="#231f20" stroke-width="0.12">Severe</text>
<rect x="408.20" y="682.63" width="10.50" height="2.37" fill="#36aa33" shape-rendering="crispEdges"/>
<text x="413.45" y="678.03" font-size="5.3" text-anchor="middle" fill="#231f20" font-weight="normal" stroke="#231f20" stroke-width="0.12">16</text>
<rect x="418.70" y="684.70" width="10.70" height="0.30" fill="#8f82c4" shape-rendering="crispEdges"/>
<text x="424.05" y="680.10" font-size="5.3" text-anchor="middle" fill="#231f20" font-weight="normal" stroke="#231f20" stroke-width="0.12">2</text>
<rect x="429.40" y="684.41" width="10.80" height="0.59" fill="#fcbc00" shape-rendering="crispEdges"/>
<text x="434.80" y="679.81" font-size="5.3" text-anchor="middle" fill="#231f20" font-weight="normal" stroke="#231f20" stroke-width="0.12">4</text>
<line x1="418.40" y1="685.00" x2="418.40" y2="693.20" stroke="#231f20" stroke-width="1"/>
<line x1="429.50" y1="685.00" x2="429.50" y2="693.20" stroke="#231f20" stroke-width="1"/>
<text x="412.60" y="691.20" font-size="5.4" text-anchor="middle" fill="#231f20" font-weight="normal" stroke="#231f20" stroke-width="0.12">0-1</text>
<text x="423.60" y="691.20" font-size="5.4" text-anchor="middle" fill="#231f20" font-weight="normal" stroke="#231f20" stroke-width="0.12">2-3</text>
<text x="434.80" y="691.20" font-size="5.4" text-anchor="middle" fill="#231f20" font-weight="normal" stroke="#231f20" stroke-width="0.12">4+</text>
<text x="424.10" y="699.30" font-size="5.4" text-anchor="middle" fill="#231f20" font-weight="normal" stroke="#231f20" stroke-width="0.12">Multiple</text>
<text x="424.10" y="705.60" font-size="5.4" text-anchor="middle" fill="#231f20" font-weight="normal" stroke="#231f20" stroke-width="0.12">severities</text>
<rect x="445.20" y="555.35" width="10.50" height="129.65" fill="#36aa33" shape-rendering="crispEdges"/>
<text x="450.45" y="550.75" font-size="5.3" text-anchor="middle" fill="#231f20" font-weight="normal" stroke="#231f20" stroke-width="0.12">876</text>
<rect x="455.70" y="662.65" width="10.70" height="22.35" fill="#8f82c4" shape-rendering="crispEdges"/>
<text x="461.05" y="658.05" font-size="5.3" text-anchor="middle" fill="#231f20" font-weight="normal" stroke="#231f20" stroke-width="0.12">151</text>
<rect x="466.40" y="634.24" width="10.80" height="50.76" fill="#fcbc00" shape-rendering="crispEdges"/>
<text x="471.80" y="629.64" font-size="5.3" text-anchor="middle" fill="#231f20" font-weight="normal" stroke="#231f20" stroke-width="0.12">343</text>
<line x1="455.40" y1="685.00" x2="455.40" y2="693.20" stroke="#231f20" stroke-width="1"/>
<line x1="466.50" y1="685.00" x2="466.50" y2="693.20" stroke="#231f20" stroke-width="1"/>
<text x="449.60" y="691.20" font-size="5.4" text-anchor="middle" fill="#231f20" font-weight="normal" stroke="#231f20" stroke-width="0.12">0-1</text>
<text x="460.60" y="691.20" font-size="5.4" text-anchor="middle" fill="#231f20" font-weight="normal" stroke="#231f20" stroke-width="0.12">2-3</text>
<text x="471.80" y="691.20" font-size="5.4" text-anchor="middle" fill="#231f20" font-weight="normal" stroke="#231f20" stroke-width="0.12">4+</text>
<text x="461.10" y="702.60" font-size="5.4" text-anchor="middle" fill="#231f20" font-weight="normal" stroke="#231f20" stroke-width="0.12">Not reported</text>
<line x1="294.60" y1="685.00" x2="294.60" y2="708.60" stroke="#231f20" stroke-width="1"/>
<line x1="331.60" y1="685.00" x2="331.60" y2="708.60" stroke="#231f20" stroke-width="1"/>
<line x1="368.60" y1="685.00" x2="368.60" y2="708.60" stroke="#231f20" stroke-width="1"/>
<line x1="405.60" y1="685.00" x2="405.60" y2="708.60" stroke="#231f20" stroke-width="1"/>
<line x1="442.60" y1="685.00" x2="442.60" y2="708.60" stroke="#231f20" stroke-width="1"/>
<line x1="479.60" y1="685.00" x2="479.60" y2="708.60" stroke="#231f20" stroke-width="1"/>
<line x1="291.60" y1="685.00" x2="479.60" y2="685.00" stroke="#231f20" stroke-width="1.2"/>
<line x1="294.60" y1="693.20" x2="479.60" y2="693.20" stroke="#231f20" stroke-width="1"/>
<line x1="294.10" y1="708.40" x2="480.10" y2="708.40" stroke="#231f20" stroke-width="1"/>
<text transform="translate(259.70,609.10) rotate(-90) scale(0.725,1)" font-size="9.6" text-anchor="middle" fill="#231f20" font-weight="normal" y="3.2" stroke="#231f20" stroke-width="0.35">Number of mutant residues</text>
<rect x="302.30" y="534.20" width="7.50" height="7.40" fill="#36aa33" shape-rendering="crispEdges"/>
<rect x="302.30" y="545.80" width="7.50" height="7.40" fill="#8f82c4" shape-rendering="crispEdges"/>
<rect x="302.30" y="557.30" width="7.50" height="7.40" fill="#fcbc00" shape-rendering="crispEdges"/>
<text x="313.40" y="540.20" font-size="7.3" text-anchor="start" fill="#231f20" font-weight="normal" stroke="#231f20" stroke-width="0.12">0-1</text>
<text x="313.40" y="551.80" font-size="7.3" text-anchor="start" fill="#231f20" font-weight="normal" stroke="#231f20" stroke-width="0.12">2-3</text>
<text x="313.40" y="563.40" font-size="7.3" text-anchor="start" fill="#231f20" font-weight="normal" stroke="#231f20" stroke-width="0.12">4+</text>
</svg></div>
<div id="b"></div>
</body></html>
